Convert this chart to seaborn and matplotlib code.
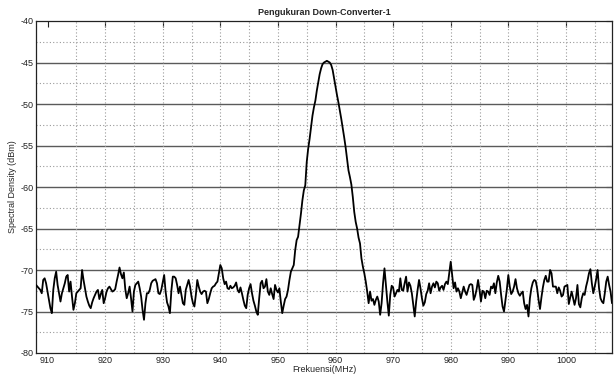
import numpy as np
import pandas as pd
import seaborn as sns
import matplotlib
matplotlib.use('Agg')
import matplotlib.pyplot as plt

# spectrum readings, 0.25 MHz step from 908 MHz to 1008 MHz (dBm)
level_908 = [-71.8, -72.0, -72.2, -72.4, -72.8, -71.2, -71.0, -71.6,
             -72.6, -73.6, -74.6, -75.2, -72.4, -71.0, -70.2, -71.8,
             -72.8, -73.8, -72.8, -72.2, -71.6, -70.8, -70.6, -72.6,
             -71.4, -73.2, -74.8, -74.0, -72.8, -72.6, -72.4, -72.2,
             -70.0, -71.2, -72.2, -73.2, -73.8, -74.3, -74.6, -73.9]
level_918 = [-73.4, -73.0, -72.6, -72.4, -73.5, -72.9, -72.4, -74.0,
             -73.4, -72.6, -72.2, -72.0, -72.3, -72.6, -72.5, -72.3,
             -71.4, -70.6, -69.7, -70.5, -71.0, -70.3, -72.3, -73.4,
             -72.8, -72.0, -73.4, -75.0, -72.6, -71.8, -71.6, -71.4,
             -72.2, -73.2, -74.8, -76.0, -74.0, -72.8, -72.8, -72.4]
level_928 = [-71.6, -71.3, -71.2, -71.1, -71.6, -72.8, -72.9, -72.4,
             -71.5, -70.6, -72.6, -73.9, -74.4, -75.2, -72.5, -70.8,
             -70.8, -71.0, -71.8, -72.8, -72.0, -73.0, -74.0, -74.2,
             -72.4, -71.8, -71.2, -72.0, -73.2, -74.0, -74.4, -73.0,
             -71.2, -72.0, -72.6, -72.9, -72.6, -72.5, -72.6, -74.0]
level_938 = [-73.5, -72.8, -72.2, -72.0, -71.9, -71.6, -71.4, -70.4,
             -69.4, -69.8, -71.0, -71.7, -71.4, -72.2, -72.3, -71.9,
             -72.2, -72.1, -71.9, -71.5, -72.4, -72.7, -72.1, -72.8,
             -73.6, -74.3, -74.6, -73.0, -72.2, -71.7, -72.8, -73.7,
             -74.3, -75.0, -75.4, -73.4, -71.6, -71.3, -72.2, -72.0]
level_948 = [-71.1, -72.6, -73.0, -72.2, -72.9, -73.5, -71.8, -72.4,
             -72.7, -72.2, -73.8, -75.2, -74.3, -73.5, -73.2, -72.4,
             -71.2, -70.2, -69.8, -69.4, -67.6, -66.4, -66.0, -64.6,
             -63.2, -61.6, -60.4, -59.8, -57.0, -55.4, -54.2, -52.8,
             -51.4, -50.4, -49.6, -48.4, -47.4, -46.4, -45.7, -45.2]
level_958 = [-45.0, -44.9, -44.8, -44.9, -45.0, -45.3, -45.9, -46.9,
             -47.9, -48.9, -49.8, -50.8, -51.8, -52.9, -54.0, -55.2,
             -56.6, -58.0, -58.8, -59.7, -61.2, -63.0, -64.2, -65.0,
             -66.1, -66.8, -68.6, -69.6, -70.4, -71.4, -72.6, -74.0,
             -72.6, -73.7, -73.5, -74.2, -73.6, -73.2, -73.8, -75.4]
level_968 = [-74.0, -71.6, -69.8, -71.8, -73.8, -75.5, -73.0, -71.9,
             -72.1, -73.2, -72.8, -72.4, -72.6, -71.0, -72.4, -72.5,
             -71.6, -70.8, -72.6, -71.5, -71.9, -72.8, -74.2, -75.6,
             -73.8, -72.4, -71.2, -72.2, -73.4, -74.3, -73.9, -72.9,
             -72.5, -71.6, -72.8, -72.0, -71.6, -72.1, -71.4, -71.6]
level_978 = [-72.5, -72.1, -71.9, -72.4, -71.7, -71.4, -71.7, -70.4,
             -69.0, -70.6, -72.2, -71.5, -72.6, -72.2, -72.6, -73.4,
             -72.7, -72.0, -72.6, -73.0, -72.4, -71.8, -71.7, -71.8,
             -73.6, -73.1, -72.3, -71.2, -72.4, -73.8, -72.5, -72.6,
             -73.4, -72.5, -72.6, -73.0, -72.0, -72.2, -71.6, -72.8]
level_988 = [-71.5, -70.7, -71.4, -73.0, -74.4, -75.0, -73.6, -72.3,
             -70.6, -72.0, -72.9, -72.6, -72.0, -71.1, -72.2, -72.8,
             -73.1, -72.8, -72.6, -74.0, -74.7, -74.2, -75.6, -73.4,
             -72.2, -71.5, -71.2, -71.3, -72.2, -73.6, -74.7, -73.3,
             -72.1, -71.2, -70.7, -71.4, -71.4, -70.0, -70.4, -72.0]
level_998 = [-72.0, -72.0, -72.8, -72.1, -72.5, -73.2, -73.0, -72.0,
             -71.9, -71.8, -74.1, -73.3, -72.6, -73.4, -74.2, -73.4,
             -71.8, -74.1, -74.5, -73.4, -72.8, -73.0, -72.0, -71.3,
             -70.4, -69.9, -71.6, -72.8, -72.0, -71.1, -70.0, -72.2,
             -73.4, -73.8, -74.0, -72.8, -71.4, -70.8, -71.8, -72.6,
             -74.0]

x_ticks = [910, 920, 930, 940, 950, 960, 970, 980, 990, 1000]
y_ticks = [-80, -75, -70, -65, -60, -55, -50, -45, -40]

level = (level_908 + level_918 + level_928 + level_938 + level_948 +
         level_958 + level_968 + level_978 + level_988 + level_998)
freq = np.arange(908, 1008.001, 0.25)
df = pd.DataFrame({'freq': freq, 'level': level})

sns.set_style('white')
plt.rcParams['font.family'] = ['Liberation Sans', 'DejaVu Sans']
# matlab uses a plain hyphen for negative numbers
plt.rcParams['axes.unicode_minus'] = False

fig, ax = plt.subplots(figsize=(6.15, 3.75), dpi=100)
fig.subplots_adjust(left=36 / 615, right=612 / 615, bottom=22 / 375, top=354 / 375)

# grid like the matlab figure: solid major, dotted minor
for y in [-75, -70, -65, -60, -55, -50, -45]:
    ax.axhline(y, color='#5a5a5a', lw=1.0, zorder=1)
for y in [-77.5, -72.5, -67.5, -62.5, -57.5, -52.5, -47.5, -42.5]:
    ax.axhline(y, color='#9a9a9a', lw=0.8, ls=(0, (1, 2)), zorder=1)
for x in range(915, 1006, 5):
    ax.axvline(x, color='#9a9a9a', lw=0.8, ls=(0, (1, 2)), zorder=1)

sns.lineplot(data=df, x='freq', y='level', color='black', lw=1.3, ax=ax, zorder=3)

ax.set_xlim(908, 1008)
ax.set_ylim(-80, -40)
ax.set_xticks(x_ticks)
ax.set_yticks(y_ticks)
ax.tick_params(direction='in', length=4, width=0.8, labelsize=6.5,
               colors='#222222', top=True, right=True, pad=2)
for s in ax.spines.values():
    s.set_color('#222222')
    s.set_linewidth(0.9)

ax.set_title('Pengukuran Down-Converter-1', fontsize=6.5, fontweight='bold', pad=4)
ax.set_xlabel('Frekuensi(MHz)', fontsize=6.5, labelpad=0)
ax.set_ylabel('Spectral Density (dBm)', fontsize=6.5, labelpad=2)

fig.savefig('out.png', dpi=100)
